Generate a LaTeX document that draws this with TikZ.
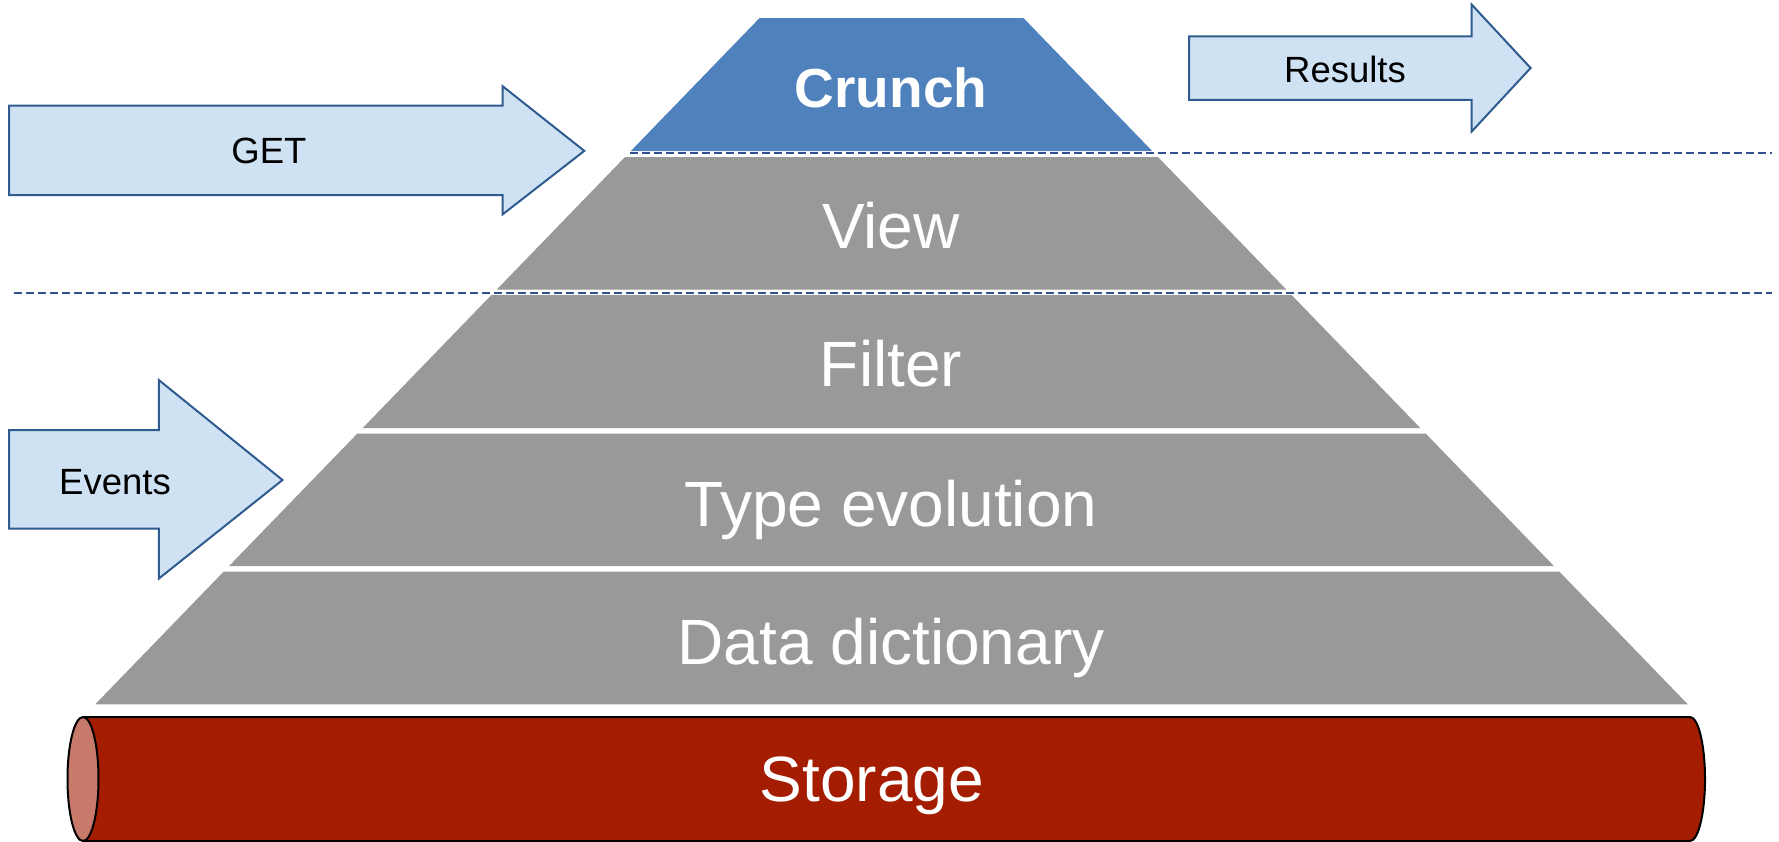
\documentclass[tikz,border=0pt]{standalone}
\usepackage{fontspec}
\setmainfont{Liberation Sans}
\definecolor{crunchblue}{HTML}{4F81BD}
\definecolor{layergray}{HTML}{999999}
\definecolor{storred}{HTML}{A51D00}
\definecolor{storend}{HTML}{C87A6A}
\definecolor{arrowfill}{HTML}{CFE2F3}
\definecolor{arrowline}{HTML}{2F5B8F}
\definecolor{dashblue}{HTML}{2F4F8F}
\tikzset{
  layertext/.style={text=white, font=\fontsize{64}{70}\selectfont, anchor=base, inner sep=0pt},
  arrowtext/.style={text=black, font=\fontsize{36.5}{40}\selectfont, inner sep=0pt},
  fatarrow/.style={fill=arrowfill, draw=arrowline, line width=2pt, line join=miter},
  sepline/.style={draw=dashblue, line width=2pt, dash pattern=on 8pt off 4pt},
}
\newcommand{\lx}[1]{{777-0.968*(#1)}}
\newcommand{\rx}[1]{{1006+0.968*(#1)}}
\begin{document}
\begin{tikzpicture}[x=1pt,y=-1pt]
\useasboundingbox (0,0) rectangle (1779,841);
% pyramid layers
\fill[crunchblue] (\lx{18},18) -- (\rx{18},18) -- (\rx{151},151) -- (\lx{151},151) -- cycle;
\fill[layergray] (\lx{157},157) -- (\rx{157},157) -- (\rx{289.5},289.5) -- (\lx{289.5},289.5) -- cycle;
\fill[layergray] (\lx{295.2},295.2) -- (\rx{295.2},295.2) -- (\rx{428},428) -- (\lx{428},428) -- cycle;
\fill[layergray] (\lx{433.6},433.6) -- (\rx{433.6},433.6) -- (\rx{566},566) -- (\lx{566},566) -- cycle;
\fill[layergray] (\lx{571.6},571.6) -- (\rx{571.6},571.6) -- (\rx{704.4},704.4) -- (\lx{704.4},704.4) -- cycle;
\node[layertext, font=\bfseries\fontsize{55}{60}\selectfont] (crunch) at (891,107) {Crunch};
\node[layertext] (view) at (891,248) {View};
\node[layertext] (filter) at (891,386.5) {Filter};
\node[layertext] (typeevo) at (891,526) {Type evolution};
\node[layertext] (datadict) at (891,664) {Data dictionary};
% dashed separators
\coordinate (d1a) at (630,152.5);
\coordinate (d1b) at (1772,152.5);
\coordinate (d2a) at (14,292.5);
\coordinate (d2b) at (1772,292.5);
\draw[sepline] (d1a) -- (d1b);
\draw[sepline] (d2a) -- (d2b);
% storage cylinder
\filldraw[fill=storred, draw=black, line width=2pt]
  (83,717) -- (1690,717) arc[start angle=-90, end angle=90, x radius=15, y radius=62] -- (83,841) -- cycle;
\filldraw[fill=storend, draw=black, line width=2pt] (83,779) ellipse[x radius=15.5, y radius=62];
\node[layertext] (storage) at (872,801) {Storage};
% GET arrow
\draw[fatarrow] (9,105.5) -- (502.6,105.5) -- (502.6,86.2) -- (584.3,150.9) -- (502.6,214.4) -- (502.6,195.2) -- (9,195.2) -- cycle;
\node[arrowtext] (get) at (269,151) {GET};
% Events arrow
\draw[fatarrow] (9,430) -- (158.8,430) -- (158.8,380) -- (282.5,480) -- (158.8,578.6) -- (158.8,528.7) -- (9,528.7) -- cycle;
\node[arrowtext] (events) at (115,482) {Events};
% Results arrow
\draw[fatarrow] (1189,36.3) -- (1471.6,36.3) -- (1471.6,4.5) -- (1530.6,68) -- (1471.6,131.6) -- (1471.6,99.8) -- (1189,99.8) -- cycle;
\node[arrowtext] (results) at (1345,69) {Results};
\end{tikzpicture}
\end{document}
